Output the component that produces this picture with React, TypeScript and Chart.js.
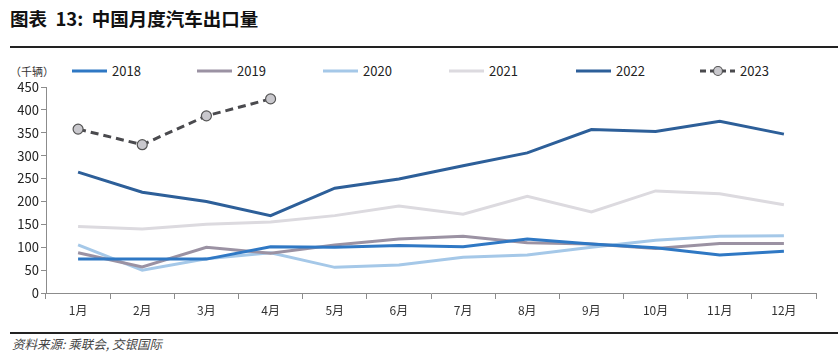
import React, { useEffect, useRef } from "react";
import { Chart, registerables } from "chart.js";

Chart.register(...registerables);

const categories = ["1月", "2月", "3月", "4月", "5月", "6月", "7月", "8月", "9月", "10月", "11月", "12月"];
const s2018 = [74, 74, 74, 101, 100, 104, 101, 118, 107, 99, 83, 91];
const s2019 = [88, 57, 100, 87, 105, 118, 124, 110, 107, 97, 108, 108];
const s2020 = [105, 50, 75, 88, 56, 61, 78, 83, 100, 115, 124, 125];
const s2021 = [145, 140, 150, 155, 169, 190, 172, 211, 177, 223, 217, 193];
const s2022 = [264, 220, 200, 169, 229, 249, 278, 306, 357, 353, 375, 347];
const s2023 = [358, 324, 387, 424, null, null, null, null, null, null, null, null];
const yTicks = [0, 50, 100, 150, 200, 250, 300, 350, 400, 450];

const series = [
  { label: "2018", data: s2018, color: "#2f78c4", dash: false },
  { label: "2019", data: s2019, color: "#9b92a3", dash: false },
  { label: "2020", data: s2020, color: "#a5c8e8", dash: false },
  { label: "2021", data: s2021, color: "#dcdadf", dash: false },
  { label: "2022", data: s2022, color: "#2d5f99", dash: false },
  { label: "2023", data: s2023, color: "#4a4a4e", dash: true },
];

const FONT = "'Noto Sans CJK SC', 'Noto Sans', sans-serif";

export default function App() {
  const ref = useRef<HTMLCanvasElement | null>(null);
  useEffect(() => {
    document.body.style.margin = "0";
    const ctx = ref.current!.getContext("2d")!;
    const chart = new Chart(ctx, {
      type: "line",
      data: {
        labels: categories,
        datasets: series.map((s) => ({
          label: s.label,
          data: s.data,
          borderColor: s.color,
          backgroundColor: s.color,
          borderWidth: 3,
          borderDash: s.dash ? [8, 5] : [],
          pointRadius: s.dash ? 5 : 0,
          pointBackgroundColor: "#c9c8cd",
          pointBorderColor: "#555555",
          pointBorderWidth: 1.2,
          tension: 0,
          spanGaps: false,
        })),
      },
      options: {
        animation: false,
        responsive: false,
        maintainAspectRatio: false,
        layout: { padding: { top: 17, right: 22, left: 0, bottom: 0 } },
        plugins: { legend: { display: false }, tooltip: { enabled: false } },
        scales: {
          x: {
            offset: true,
            grid: { drawOnChartArea: false, drawTicks: true, tickLength: 6, color: "#8c8c8c", offset: true },
            border: { color: "#8c8c8c", width: 1 },
            ticks: { color: "#333", font: { size: 12, family: FONT }, padding: 4, maxRotation: 0 },
            afterFit: (s: any) => { s.height = 30; },
          },
          y: {
            min: 0,
            max: 450,
            afterBuildTicks: (s: any) => { s.ticks = yTicks.map((v) => ({ value: v })); },
            grid: { drawOnChartArea: false, drawTicks: true, tickLength: 5, color: "#8c8c8c" },
            border: { color: "#8c8c8c", width: 1 },
            ticks: { color: "#222", font: { size: 13, family: FONT }, padding: 2 },
            afterFit: (s: any) => { s.width = 46; },
          },
        },
      },
    });
    return () => chart.destroy();
  }, []);

  const legendX = [72, 197, 323, 449, 576, 700];

  return (
    <div style={{ position: "absolute", left: 0, top: 0, width: 838, height: 363, background: "#fff", fontFamily: FONT, overflow: "hidden" }}>
      <div style={{ position: "absolute", left: 10, top: 5, fontSize: 18.5, fontWeight: "bold", color: "#111", lineHeight: "26px", whiteSpace: "pre" }}>
        {"图表  13:  中国月度汽车出口量"}
      </div>
      <div style={{ position: "absolute", left: 10, top: 46, width: 828, height: 2, background: "#222" }} />
      <div style={{ position: "absolute", left: 10, top: 62, fontSize: 11, color: "#333", lineHeight: "18px", whiteSpace: "pre" }}>（千辆）</div>
      {series.map((s, i) => (
        <div key={s.label} style={{ position: "absolute", left: legendX[i], top: 62, height: 18, width: 110 }}>
          <svg width={36} height={18} style={{ position: "absolute", left: 0, top: 0 }}>
            <line x1={0} y1={9} x2={35} y2={9} stroke={s.color} strokeWidth={3} strokeDasharray={s.dash ? "6 4" : undefined} />
            {s.dash ? <circle cx={18} cy={9} r={4.5} fill="#c9c8cd" stroke="#555" strokeWidth={1.2} /> : null}
          </svg>
          <span style={{ position: "absolute", left: 40, top: 0, fontSize: 13, color: "#222", lineHeight: "18px" }}>{s.label}</span>
        </div>
      ))}
      <canvas ref={ref} width={838} height={253} style={{ position: "absolute", left: 0, top: 70, width: 838, height: 253 }} />
      <div style={{ position: "absolute", left: 10, top: 332, width: 828, height: 2, background: "#222" }} />
      <div style={{ position: "absolute", left: 12, top: 335, fontSize: 12.5, fontStyle: "italic", color: "#444", lineHeight: "18px" }}>
        资料来源: 乘联会, 交银国际
      </div>
    </div>
  );
}
